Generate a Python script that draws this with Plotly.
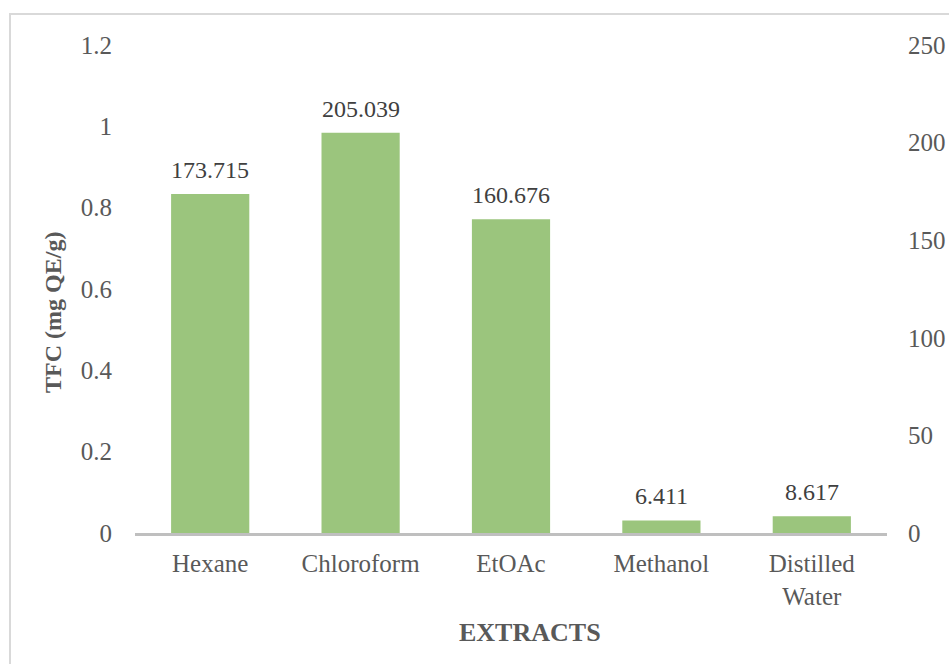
import plotly.graph_objects as go

# Total flavonoid content of each extract
extracts = ["Hexane", "Chloroform", "EtOAc", "Methanol", "Distilled<br>Water"]
tfc_values = [173.715, 205.039, 160.676, 6.411, 8.617]

FONT = "Liberation Serif, Times New Roman, serif"
TEXT = "#595959"
BAR = "#9BC57D"

fig = go.Figure()

# Placeholder series on the left axis so that it is laid out with its own scale
fig.add_trace(go.Scatter(x=extracts, y=[None] * len(extracts), yaxis="y",
                         mode="markers", showlegend=False, hoverinfo="skip"))

fig.add_trace(go.Bar(
    x=extracts, y=tfc_values, yaxis="y2",
    marker=dict(color=BAR, line=dict(width=0)),
    showlegend=False,
))

# Value labels above each bar
annotations = [
    dict(x=cat, y=val, xref="x", yref="y2", text=f"{val:.3f}", showarrow=False,
         yanchor="middle", yshift=24,
         font=dict(family=FONT, size=24, color="#404040"))
    for cat, val in zip(extracts, tfc_values)
]

# Axis titles
annotations += [
    dict(x=0.525, y=-0.203, xref="paper", yref="paper", text="<b>EXTRACTS</b>",
         showarrow=False, xanchor="center", yanchor="middle",
         font=dict(family=FONT, size=26, color=TEXT)),
    dict(x=-0.109, y=0.451, xref="paper", yref="paper", text="<b>TFC (mg QE/g)</b>",
         showarrow=False, textangle=-90, xanchor="center", yanchor="middle",
         font=dict(family=FONT, size=24, color=TEXT)),
]

fig.update_layout(
    width=949, height=664,
    margin=dict(l=135, r=62, t=45, b=131),
    paper_bgcolor="white", plot_bgcolor="white",
    font=dict(family=FONT, size=25, color=TEXT),
    bargap=0.48,
    xaxis=dict(
        showgrid=False, showline=True, linecolor="#BFBFBF", linewidth=3,
        ticks="", ticklabelstandoff=6, automargin=False,
        tickfont=dict(family=FONT, size=25, color=TEXT),
    ),
    yaxis=dict(
        range=[0, 1.2], dtick=0.2, showgrid=False, zeroline=False, showline=False,
        ticks="", ticklabelstandoff=22, automargin=False,
        tickfont=dict(family=FONT, size=25, color=TEXT),
    ),
    yaxis2=dict(
        range=[0, 250], dtick=50, overlaying="y", side="right",
        showgrid=False, zeroline=False, showline=False, ticks="",
        ticklabelstandoff=20, automargin=False,
        tickfont=dict(family=FONT, size=25, color=TEXT),
    ),
    annotations=annotations,
    shapes=[dict(type="rect", xref="paper", yref="paper",
                 x0=-0.1662, x1=1.2, y0=-0.4, y1=1.0635,
                 line=dict(color="#D9D9D9", width=2), layer="below")],
)

fig.write_html("out.html")
